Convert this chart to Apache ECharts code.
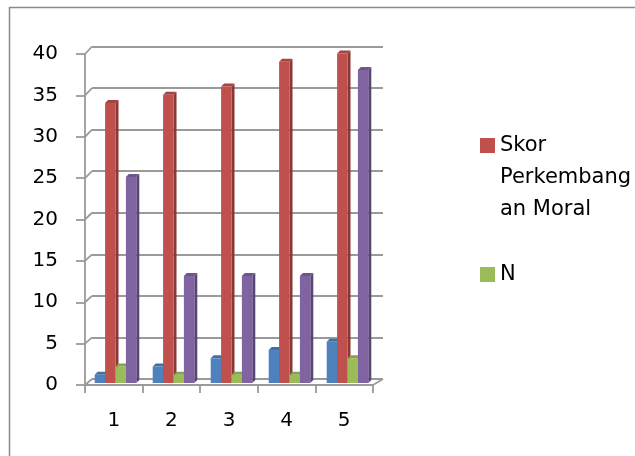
<!DOCTYPE html>
<html>
<head>
<meta charset="utf-8">
<script src="https://cdn.jsdelivr.net/npm/echarts@6/dist/echarts.min.js"></script>
<style>
  html, body { margin: 0; padding: 0; background: #ffffff; }
  #chart { width: 635px; height: 456px; }
</style>
</head>
<body>
<div id="chart"></div>
<script>
// Categories and series values
const categories = ['1', '2', '3', '4', '5'];
const seriesNo = [1, 2, 3, 4, 5];
const skorPerkembanganMoral = [34, 35, 36, 39, 40];
const seriesN = [2, 1, 1, 1, 3];
const seriesJumlah = [25, 13, 13, 13, 38];
const yTicks = [0, 5, 10, 15, 20, 25, 30, 35, 40];

// Styling
const FONT = 'DejaVu Sans';
const GRID_COLOR = '#9a9a9a';
const BAR_W = 10.4;
const DEPTH = 3;
const COLORS = [
  { front: '#4f81bd', side: '#375b87', top: '#44709f' },
  { front: '#c0504d', side: '#8a3735', top: '#a44441' },
  { front: '#9bbb59', side: '#6f8a3c', top: '#86a24b' },
  { front: '#8064a2', side: '#5a4675', top: '#6d568b' }
];

const chart = echarts.init(document.getElementById('chart'), null, { renderer: 'canvas' });

// A 3D-looking bar: front face, shaded right side and top face
function makeBarRenderer(slot) {
  const c = COLORS[slot];
  return function (params, api) {
    const cat = api.value(0);
    const val = api.value(1);
    const top = api.coord([cat, val]);
    const base = api.coord([cat, 0]);
    const x0 = top[0] + (slot - 2) * BAR_W;
    const x1 = x0 + BAR_W;
    const yt = top[1];
    const yb = base[1];
    return {
      type: 'group',
      children: [
        {
          type: 'polygon',
          shape: { points: [[x1, yt], [x1 + DEPTH, yt - DEPTH], [x1 + DEPTH, yb - DEPTH], [x1, yb]] },
          style: { fill: c.side }
        },
        {
          type: 'polygon',
          shape: { points: [[x0, yt], [x0 + DEPTH, yt - DEPTH], [x1 + DEPTH, yt - DEPTH], [x1, yt]] },
          style: { fill: c.top }
        },
        {
          type: 'rect',
          shape: { x: x0, y: yt, width: BAR_W, height: yb - yt },
          style: { fill: c.front }
        }
      ]
    };
  };
}

// Connects each front tick to its gridline on the back wall
function renderDepthLine(params, api) {
  const v = api.value(0);
  const fy = api.coord([0, v])[1];
  const front = [params.coordSys.x, fy];
  const back = chart.convertToPixel({ gridIndex: 0 }, [0, v]);
  return {
    type: 'line',
    shape: { x1: front[0], y1: front[1], x2: back[0], y2: back[1] },
    style: { stroke: GRID_COLOR, lineWidth: 1.8 }
  };
}

// Right edge of the floor
function renderFloorEdge(params, api) {
  const cs = params.coordSys;
  const front = [cs.x + cs.width, api.coord([0, 0])[1]];
  const back = chart.convertToPixel({ gridIndex: 0 }, [1, 0]);
  return {
    type: 'line',
    shape: { x1: front[0], y1: front[1], x2: back[0], y2: back[1] },
    style: { stroke: GRID_COLOR, lineWidth: 1.8 }
  };
}

function pairs(values) {
  return values.map((v, i) => [i, v]);
}

const option = {
  backgroundColor: '#ffffff',
  animation: false,
  graphic: [
    {
      type: 'rect',
      shape: { x: 9.5, y: 7.5, width: 700, height: 500 },
      style: { fill: 'none', stroke: '#8a8a8a', lineWidth: 1.5 },
      silent: true
    }
  ],
  legend: [
    {
      data: [{ name: 'Skor Perkembangan Moral', icon: 'rect' }],
      left: 480,
      top: 65.5,
      padding: 0,
      itemWidth: 15,
      itemHeight: 15,
      itemGap: 0,
      // two spacer lines above keep the first text line level with the swatch
      formatter: () => ' \n \nSkor\nPerkembang\nan Moral',
      textStyle: {
        fontFamily: FONT,
        fontSize: 21,
        color: '#000000',
        lineHeight: 32
      },
      selectedMode: false
    },
    {
      data: [{ name: 'N', icon: 'rect' }],
      left: 480,
      top: 264,
      padding: 0,
      itemWidth: 15,
      itemHeight: 15,
      textStyle: { fontFamily: FONT, fontSize: 21, color: '#000000', lineHeight: 15 },
      selectedMode: false
    }
  ],
  grid: [
    // back wall
    { left: 92, right: 252, top: 46.5, bottom: 77 },
    // front axes
    { left: 85, right: 262, top: 54, bottom: 71 },
    // bars
    { left: 86.5, right: 258.5, top: 53.5, bottom: 73 }
  ],
  xAxis: [
    { gridIndex: 0, type: 'value', min: 0, max: 1, show: false },
    {
      gridIndex: 1,
      type: 'category',
      data: categories,
      axisLine: { show: true, lineStyle: { color: GRID_COLOR, width: 1.8 } },
      axisTick: { show: true, length: 8, lineStyle: { color: GRID_COLOR, width: 1.8 } },
      axisLabel: { margin: 26, fontFamily: FONT, fontSize: 20, color: '#000000' },
      splitLine: { show: false }
    },
    { gridIndex: 2, type: 'category', data: categories, show: false }
  ],
  yAxis: [
    {
      gridIndex: 0,
      type: 'value',
      min: 0,
      max: 40,
      interval: 5,
      axisLine: { show: false },
      axisTick: { show: false },
      axisLabel: { show: false },
      splitLine: { show: true, lineStyle: { color: GRID_COLOR, width: 1.8 } }
    },
    {
      gridIndex: 1,
      type: 'value',
      min: 0,
      max: 40,
      interval: 5,
      axisLine: { show: true, lineStyle: { color: GRID_COLOR, width: 1.8 } },
      axisTick: { show: true, length: 9, lineStyle: { color: GRID_COLOR, width: 1.8 } },
      axisLabel: { margin: 27, fontFamily: FONT, fontSize: 20, color: '#000000' },
      splitLine: { show: false }
    },
    { gridIndex: 2, type: 'value', min: 0, max: 40, interval: 5, show: false }
  ],
  series: [
    {
      name: 'depth',
      type: 'custom',
      xAxisIndex: 1,
      yAxisIndex: 1,
      renderItem: renderDepthLine,
      data: yTicks.map(v => [v]),
      silent: true,
      z: 1
    },
    {
      name: 'floor',
      type: 'custom',
      xAxisIndex: 1,
      yAxisIndex: 1,
      renderItem: renderFloorEdge,
      data: [[0]],
      silent: true,
      z: 1
    },
    {
      name: 'No',
      type: 'custom',
      xAxisIndex: 2,
      yAxisIndex: 2,
      renderItem: makeBarRenderer(0),
      itemStyle: { color: COLORS[0].front },
      data: pairs(seriesNo),
      z: 3
    },
    {
      name: 'Skor Perkembangan Moral',
      type: 'custom',
      xAxisIndex: 2,
      yAxisIndex: 2,
      renderItem: makeBarRenderer(1),
      itemStyle: { color: COLORS[1].front },
      data: pairs(skorPerkembanganMoral),
      z: 3
    },
    {
      name: 'N',
      type: 'custom',
      xAxisIndex: 2,
      yAxisIndex: 2,
      renderItem: makeBarRenderer(2),
      itemStyle: { color: COLORS[2].front },
      data: pairs(seriesN),
      z: 3
    },
    {
      name: 'Jumlah',
      type: 'custom',
      xAxisIndex: 2,
      yAxisIndex: 2,
      renderItem: makeBarRenderer(3),
      itemStyle: { color: COLORS[3].front },
      data: pairs(seriesJumlah),
      z: 3
    }
  ]
};

chart.setOption(option);
</script>
</body>
</html>
